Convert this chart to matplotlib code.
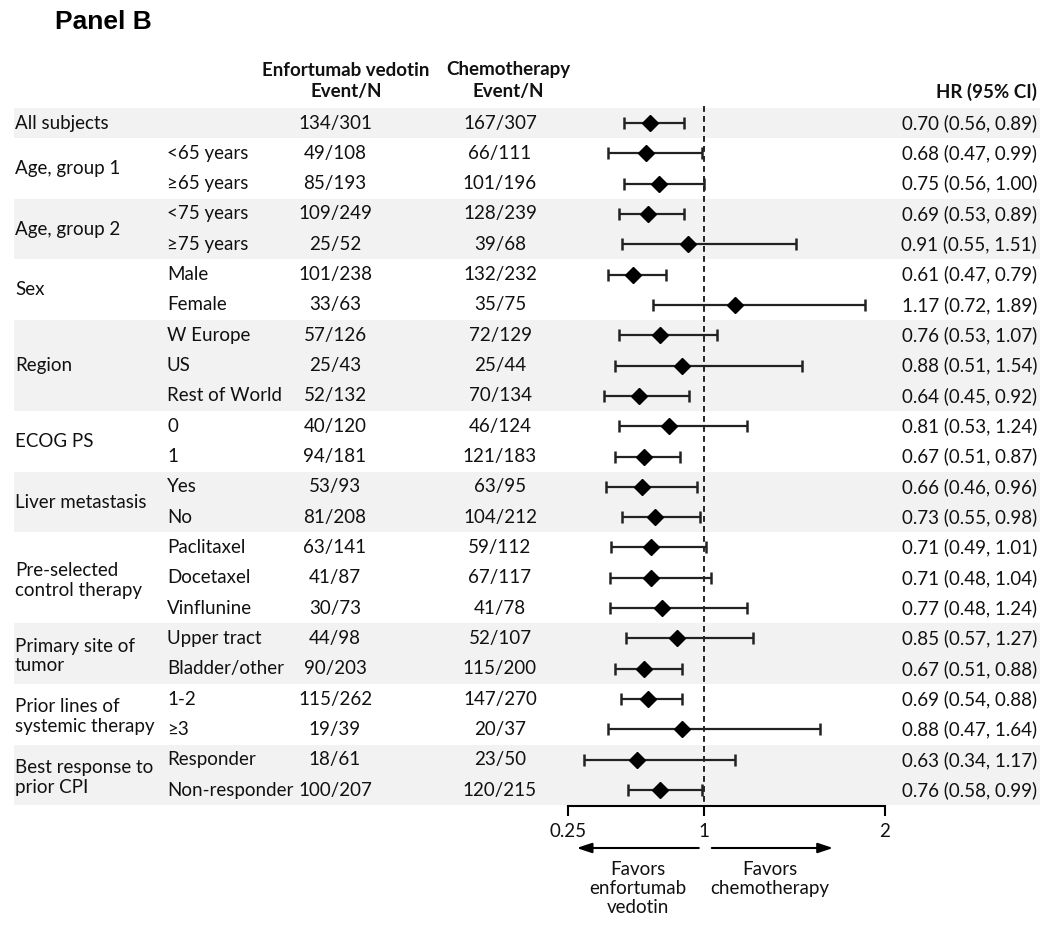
import matplotlib
matplotlib.use("Agg")
import numpy as np
import matplotlib.pyplot as plt
from matplotlib.patches import Rectangle

plt.rcParams["font.family"] = ["Lato", "DejaVu Sans"]

# ---- data -------------------------------------------------------------
groups = ["All subjects", "Age, group 1", "Age, group 2", "Sex", "Region",
          "ECOG PS", "Liver metastasis", "Pre-selected\ncontrol therapy",
          "Primary site of\ntumor", "Prior lines of\nsystemic therapy",
          "Best response to\nprior CPI"]
group_sizes = [1, 2, 2, 2, 3, 2, 2, 3, 2, 2, 2]
subgroups = ["", "<65 years", "≥65 years", "<75 years", "≥75 years",
             "Male", "Female", "W Europe", "US", "Rest of World", "0", "1",
             "Yes", "No", "Paclitaxel", "Docetaxel", "Vinflunine",
             "Upper tract", "Bladder/other", "1-2", "≥3", "Responder",
             "Non-responder"]
ev_events = ["134/301", "49/108", "85/193", "109/249", "25/52", "101/238",
             "33/63", "57/126", "25/43", "52/132", "40/120", "94/181",
             "53/93", "81/208", "63/141", "41/87", "30/73", "44/98",
             "90/203", "115/262", "19/39", "18/61", "100/207"]
chemo_events = ["167/307", "66/111", "101/196", "128/239", "39/68",
                "132/232", "35/75", "72/129", "25/44", "70/134", "46/124",
                "121/183", "63/95", "104/212", "59/112", "67/117", "41/78",
                "52/107", "115/200", "147/270", "20/37", "23/50", "120/215"]
hr = np.array([0.70, 0.68, 0.75, 0.69, 0.91, 0.61, 1.17, 0.76, 0.88, 0.64,
               0.81, 0.67, 0.66, 0.73, 0.71, 0.71, 0.77, 0.85, 0.67, 0.69,
               0.88, 0.63, 0.76])
ci_lo = np.array([0.56, 0.47, 0.56, 0.53, 0.55, 0.47, 0.72, 0.53, 0.51, 0.45,
                  0.53, 0.51, 0.46, 0.55, 0.49, 0.48, 0.48, 0.57, 0.51, 0.54,
                  0.47, 0.34, 0.58])
ci_hi = np.array([0.89, 0.99, 1.00, 0.89, 1.51, 0.79, 1.89, 1.07, 1.54, 0.92,
                  1.24, 0.87, 0.96, 0.98, 1.01, 1.04, 1.24, 1.27, 0.88, 0.88,
                  1.64, 1.17, 0.99])
xticks = [0.25, 1, 2]
xticklabels = ["0.25", "1", "2"]

# ---- layout -------------------------------------------------------------
W, H = 1050, 930
ROW0, ROWH = 123, 30.32          # pixel centre of first row, row pitch
def row(px):
    return (px - ROW0) / ROWH
ylim = (row(H), row(0))
rows = np.arange(len(subgroups))
FS = 13.5
INK = "#111111"

fig = plt.figure(figsize=(W / 100, H / 100), dpi=100)
tab = fig.add_axes([0, 0, 1, 1])
tab.set_xlim(0, W)
tab.set_ylim(*ylim)
tab.axis("off")

# shaded bands for alternate groups
start = 0
for gi, (g, n) in enumerate(zip(groups, group_sizes)):
    if gi % 2 == 0:
        tab.add_patch(Rectangle((14, start - 0.5), 1026, n, color="#f2f2f2",
                                lw=0, zorder=0))
    nudge = 0.08 if "\n" in g else 0
    tab.text(15, start + (n - 1) / 2 + nudge, g, ha="left", va="center",
             fontsize=FS, color=INK, linespacing=1.2)
    start += n

for i in rows:
    tab.text(167, i, subgroups[i], ha="left", va="center", fontsize=FS, color=INK)
    tab.text(335, i, ev_events[i], ha="center", va="center", fontsize=FS, color=INK)
    tab.text(500, i, chemo_events[i], ha="center", va="center", fontsize=FS, color=INK)
    tab.text(1037, i, f"{hr[i]:.2f} ({ci_lo[i]:.2f}, {ci_hi[i]:.2f})",
             ha="right", va="center", fontsize=FS, color=INK)

# headers
tab.text(55, row(22), "Panel B", ha="left", va="center", fontsize=19,
         fontweight="bold", family=["Liberation Sans", "DejaVu Sans"])
tab.text(346, row(70), "Enfortumab vedotin", ha="center", va="center",
         fontsize=FS, fontweight="bold", color=INK)
tab.text(346, row(92), "Event/N", ha="center", va="center",
         fontsize=FS, fontweight="bold", color=INK)
tab.text(508, row(70), "Chemotherapy", ha="center", va="center",
         fontsize=FS, fontweight="bold", color=INK)
tab.text(508, row(92), "Event/N", ha="center", va="center",
         fontsize=FS, fontweight="bold", color=INK)
tab.text(1037, row(92), "HR (95% CI)", ha="right", va="center",
         fontsize=FS, fontweight="bold", color=INK)

# ---- forest -------------------------------------------------------------
ax = fig.add_axes([568 / W, 0, (885 - 568) / W, 1])
ax.set_facecolor("none")
ax.set_xlim(0.25, 2)
ax.set_ylim(*ylim)

axis_y = row(806)
ax.plot([1, 1], [row(106), axis_y], color="black", lw=1.2,
        ls=(0, (3.5, 2.5)), zorder=1)
ax.errorbar(hr, rows, xerr=[hr - ci_lo, ci_hi - hr], fmt="D", color="black",
            ecolor="#222222", elinewidth=1.6, capsize=4, capthick=1.8,
            markersize=8.5, zorder=3, clip_on=False)

for s in ("left", "right", "top"):
    ax.spines[s].set_visible(False)
ax.spines["bottom"].set_position(("data", axis_y))
ax.spines["bottom"].set_bounds(0.25, 2)
ax.spines["bottom"].set_linewidth(1.5)
ax.set_yticks([])
ax.set_xticks(xticks)
ax.set_xticklabels(xticklabels, fontsize=FS, color=INK)
ax.tick_params(axis="x", direction="out", length=7, width=1.5, pad=5)

arr_y = row(848)
ax.annotate("", xy=(0.298, arr_y), xytext=(0.972, arr_y),
            arrowprops=dict(arrowstyle="-|>,head_length=0.9,head_width=0.3",
                            color="black", lw=1.5, shrinkA=0, shrinkB=0),
            annotation_clip=False)
ax.annotate("", xy=(1.713, arr_y), xytext=(1.044, arr_y),
            arrowprops=dict(arrowstyle="-|>,head_length=0.9,head_width=0.3",
                            color="black", lw=1.5, shrinkA=0, shrinkB=0),
            annotation_clip=False)
ax.text(0.635, row(861), "Favors\nenfortumab\nvedotin", ha="center", va="top",
        fontsize=FS, color=INK, linespacing=1.15)
ax.text(1.365, row(861), "Favors\nchemotherapy", ha="center", va="top",
        fontsize=FS, color=INK, linespacing=1.15)

fig.savefig("out.png", dpi=100, facecolor="white")
